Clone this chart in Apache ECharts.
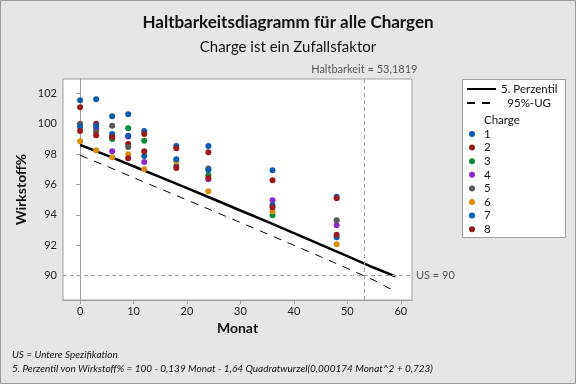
<!DOCTYPE html>
<html><head><meta charset="utf-8">
<script src="https://cdn.jsdelivr.net/npm/echarts@6/dist/echarts.min.js"></script>
<style>html,body{margin:0;padding:0;background:#e6e6e6}#c{width:576px;height:384px}</style>
</head><body><div id="c"></div>
<script>
const months = [0, 3, 6, 9, 12, 18, 24, 36, 48];
const charge1 = [101.54, 101.6, 100.49, 100.62, 99.52, 98.53, 98.53, 96.93, 95.2];
const charge2 = [101.08, 100.0, 99.15, 98.67, 99.32, 98.38, 98.12, 96.28, 95.1];
const charge3 = [null, null, 99.0, 99.7, 98.88, null, 96.6, 93.97, null];
const charge4 = [null, 99.7, 98.18, 99.15, 97.48, null, 96.34, 94.96, 93.32];
const charge5 = [100.0, 99.48, 99.87, 98.47, null, 97.22, 97.05, null, 93.64];
const charge6 = [98.84, 98.25, 97.79, 97.99, 97.0, 97.53, 95.55, 94.24, 92.07];
const charge7 = [99.78, 99.85, 99.32, 99.21, 97.87, 97.66, 96.95, 94.65, 92.53];
const charge8 = [99.52, 99.24, 99.1, 97.72, 98.18, 97.09, 96.43, 94.5, 92.7];
const chargeNames = ['1', '2', '3', '4', '5', '6', '7', '8'];
const chargeColors = ['#0a5cb0', '#9a1b1b', '#0b8a3a', '#9126c8', '#575757', '#d98e0c', '#0a5cb0', '#9a1b1b'];

const lineMonths = [0, 5, 10, 15, 20, 25, 30, 35, 40, 45, 50, 55, 59];
const perzentil5 = [98.61, 97.91, 97.2, 96.48, 95.76, 95.03, 94.29, 93.55, 92.8, 92.04, 91.29, 90.52, 89.95];
const ug95 = [97.92, 97.2, 96.45, 95.72, 94.98, 94.24, 93.5, 92.75, 92.0, 91.25, 90.48, 89.7, 88.95];

const xTicks = [0, 10, 20, 30, 40, 50, 60];
const yTicks = [90, 92, 94, 96, 98, 100, 102];
const usLimit = 90;
const shelfLife = 53.1819;

const FONT = 'Lato';
const chargeData = [charge1, charge2, charge3, charge4, charge5, charge6, charge7, charge8];

const chart = echarts.init(document.getElementById('c'), null, {renderer: 'canvas'});

const series = [
  {
    name: '5. Perzentil', type: 'line', showSymbol: false, symbol: 'none', z: 3,
    lineStyle: {color: '#000', width: 2.5}, itemStyle: {color: '#000'},
    data: lineMonths.map((m, i) => [m, perzentil5[i]]),
    markLine: {
      symbol: 'none', silent: true, animation: false,
      lineStyle: {color: '#a0a0a0', type: [4, 3], width: 1},
      data: [
        {yAxis: usLimit, label: {formatter: 'US = ' + usLimit, position: 'end', color: '#555', fontSize: 11, fontFamily: FONT, distance: 4}},
        {xAxis: shelfLife, label: {formatter: 'Haltbarkeit = ' + String(shelfLife).replace('.', ','), position: 'end', color: '#555', fontSize: 11, fontFamily: FONT, distance: 4}}
      ]
    }
  },
  {
    name: '95%-UG', type: 'line', showSymbol: false, symbol: 'none', z: 3,
    lineStyle: {color: '#000', width: 1, type: [8, 7]}, itemStyle: {color: '#000'},
    data: lineMonths.map((m, i) => [m, ug95[i]])
  }
];
chargeData.forEach((arr, k) => {
  series.push({
    name: chargeNames[k], type: 'scatter', symbolSize: 6, z: 4,
    itemStyle: {color: chargeColors[k], opacity: 1},
    data: months.map((m, i) => arr[i] == null ? null : [m, arr[i]]).filter(d => d)
  });
});

chart.setOption({
  animation: false,
  backgroundColor: '#e6e6e6',
  textStyle: {fontFamily: FONT},
  title: [
    {text: 'Haltbarkeitsdiagramm für alle Chargen', left: 'center', top: 9,
     textStyle: {fontSize: 17, fontWeight: 'bold', color: '#111', fontFamily: FONT}},
    {text: 'Charge ist ein Zufallsfaktor', left: 'center', top: 35,
     textStyle: {fontSize: 15, fontWeight: 'normal', color: '#111', fontFamily: FONT}}
  ],
  grid: {left: 63, right: 164, top: 79, bottom: 84, show: true, backgroundColor: '#fff', borderColor: '#a0a0a0', borderWidth: 1},
  xAxis: {
    type: 'value', min: -3.2, max: 62.1,
    name: 'Monat', nameLocation: 'middle', nameGap: 19,
    nameTextStyle: {fontSize: 14, fontWeight: 'bold', color: '#111', fontFamily: FONT},
    axisLine: {show: true, lineStyle: {color: '#a0a0a0'}},
    axisTick: {show: true, length: 4, customValues: xTicks, lineStyle: {color: '#a0a0a0'}},
    axisLabel: {customValues: xTicks, fontSize: 11, color: '#222', margin: 6, fontFamily: FONT},
    splitLine: {show: false}
  },
  yAxis: {
    type: 'value', min: 88.4, max: 102.94,
    name: 'Wirkstoff%', nameLocation: 'middle', nameGap: 35, nameMoveOverlap: false,
    nameTextStyle: {fontSize: 14, fontWeight: 'bold', color: '#111', fontFamily: FONT},
    axisLine: {show: true, lineStyle: {color: '#a0a0a0'}},
    axisTick: {show: true, length: 4, customValues: yTicks, lineStyle: {color: '#a0a0a0'}},
    axisLabel: {customValues: yTicks, fontSize: 11, color: '#222', margin: 6, fontFamily: FONT},
    splitLine: {show: false}
  },
  legend: [
    {
      data: ['5. Perzentil', '95%-UG'], orient: 'vertical', left: 466, top: 83, padding: 0,
      itemWidth: 29, itemHeight: 12, itemGap: 2, selectedMode: false,
      itemStyle: {opacity: 0},
      textStyle: {fontSize: 11.5, color: '#111', fontFamily: FONT, lineHeight: 12,
        rich: {r: {width: 50, align: 'right', fontSize: 11.5, fontFamily: FONT, color: '#111', lineHeight: 12}}},
      formatter: n => n === '95%-UG' ? '{r|' + n + '}' : n
    },
    {
      data: chargeNames, orient: 'vertical', left: 469, top: 128, padding: 0,
      itemWidth: 6, itemHeight: 6, itemGap: 1.6, icon: 'circle', selectedMode: false,
      textStyle: {fontSize: 11.5, color: '#111', fontFamily: FONT, lineHeight: 12, padding: [0, 0, 0, 4]}
    }
  ],
  graphic: [
    {type: 'rect', shape: {x: 0.5, y: 0.5, width: 575, height: 383}, style: {fill: 'none', stroke: '#999', lineWidth: 1}, z: -10, silent: true},
    {type: 'rect', shape: {x: 462.5, y: 79.5, width: 103, height: 158}, style: {fill: '#fff', stroke: '#a0a0a0', lineWidth: 1}, z: -1, silent: true},
    {type: 'text', x: 484, y: 120, style: {text: 'Charge', fontSize: 11.5, fontFamily: FONT, fill: '#111', verticalAlign: 'middle'}, silent: true},
    {type: 'text', x: 12, y: 355, style: {text: 'US = Untere Spezifikation', fontSize: 10, fontStyle: 'italic', fontFamily: FONT, fill: '#111', verticalAlign: 'middle'}, silent: true},
    {type: 'text', x: 12, y: 369, style: {text: '5. Perzentil von Wirkstoff% = 100 - 0,139 Monat - 1,64 Quadratwurzel(0,000174 Monat^2 + 0,723)', fontSize: 10, fontStyle: 'italic', fontFamily: FONT, fill: '#111', verticalAlign: 'middle'}, silent: true}
  ],
  series: series
});
</script></body></html>
